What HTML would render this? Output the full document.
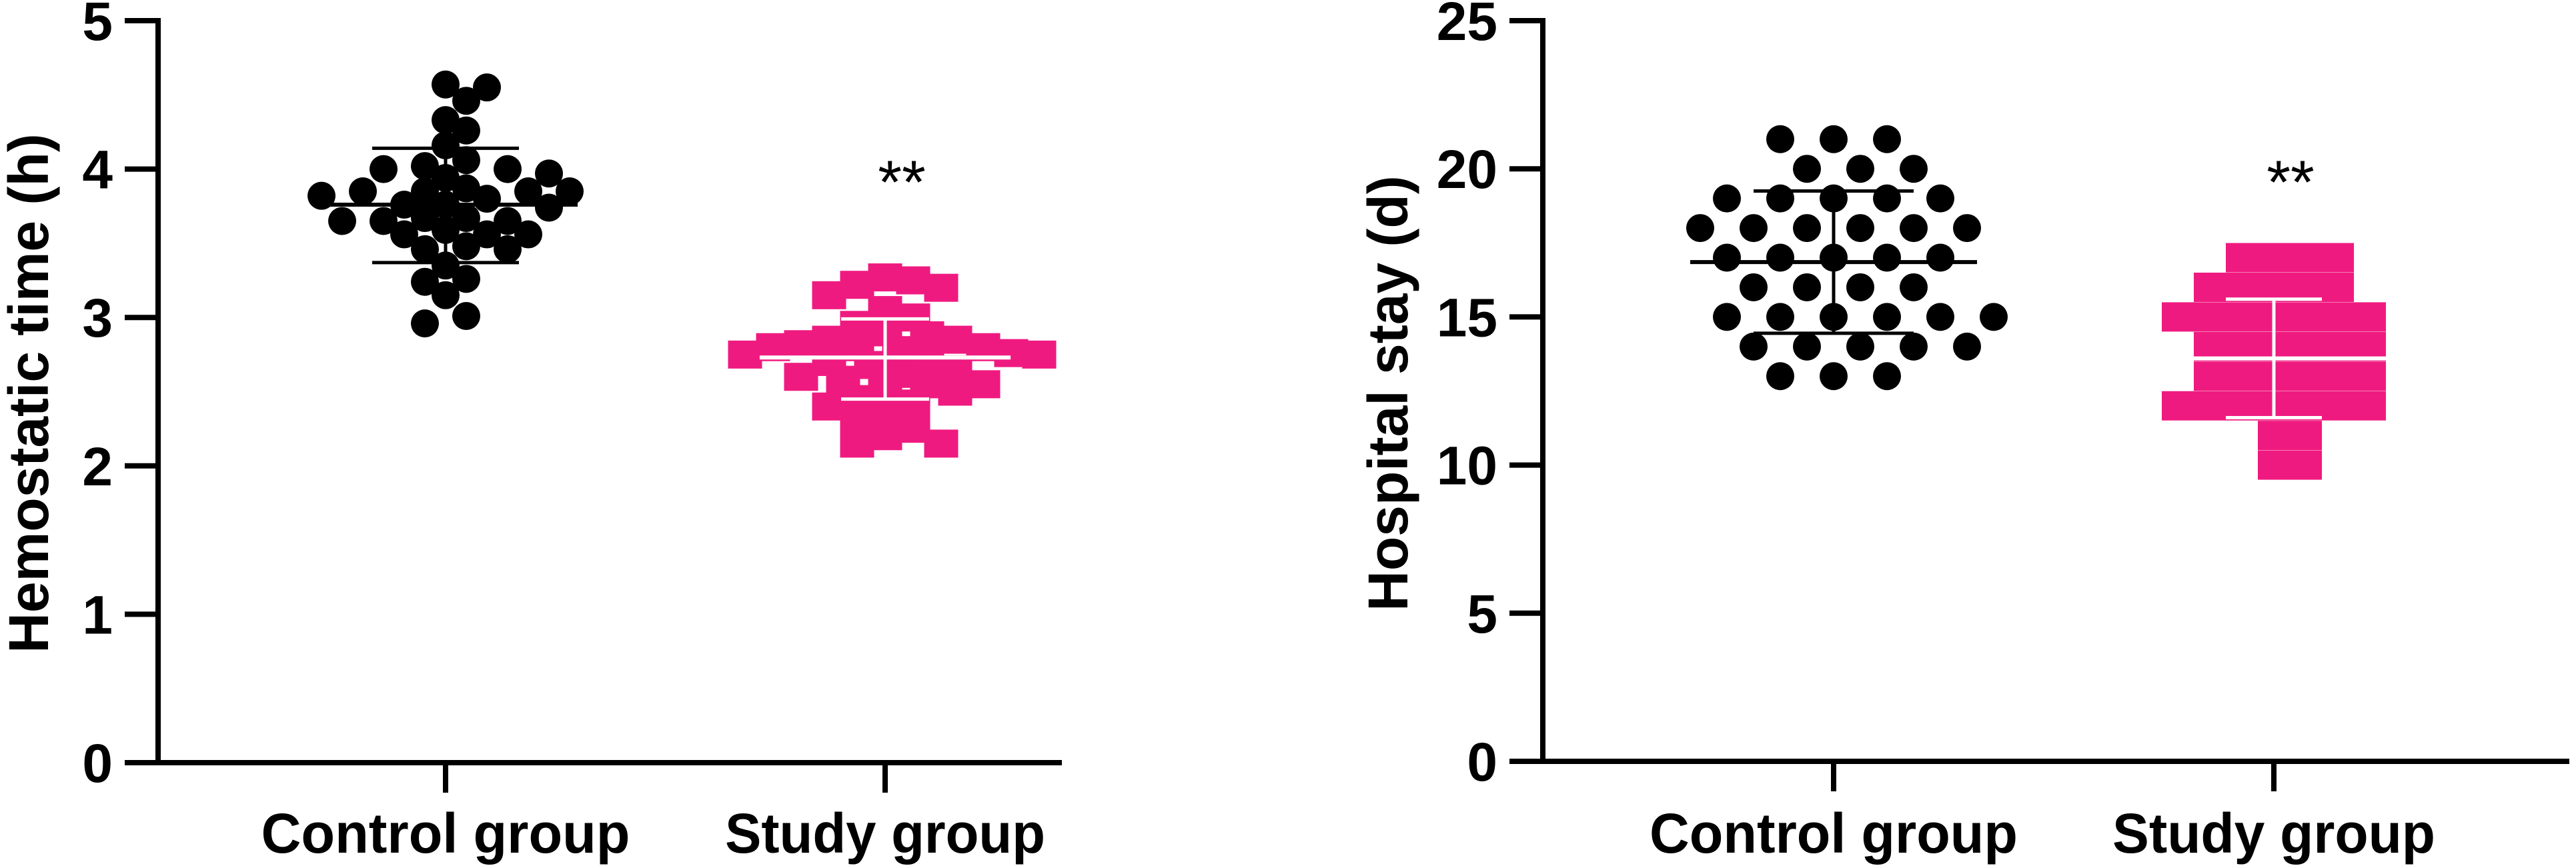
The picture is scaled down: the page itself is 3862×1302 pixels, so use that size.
<!DOCTYPE html>
<html><head><meta charset="utf-8"><style>body{margin:0;background:#fff}svg{display:block}</style></head>
<body>
<svg id="fig" xmlns="http://www.w3.org/2000/svg" width="3862" height="1302" viewBox="0 0 3862 1302" font-family="Liberation Sans, Arial, sans-serif" font-weight="bold"></svg>
<script>
const categories = ["Control group", "Study group"];
const hemoControl = [4.57,4.55,4.46,4.33,4.26,4.16,4.02,4.0,4.06,4.0,3.94,3.97,3.82,3.76,3.87,3.85,3.85,3.85,3.85,3.80,3.74,3.76,3.65,3.67,3.67,3.65,3.65,3.56,3.56,3.59,3.56,3.46,3.48,3.46,3.35,3.24,3.26,3.15,2.96,3.01];
const hemoStudy = [3.27,3.25,3.22,3.2,3.15,3.05,3.0,2.95,2.9,2.88,2.85,2.85,2.82,2.8,2.8,2.78,2.76,2.75,2.75,2.72,2.7,2.68,2.65,2.62,2.6,2.58,2.55,2.55,2.5,2.5,2.45,2.42,2.4,2.35,2.3,2.25,2.2,2.15,2.15,2.8];
const stayControl = [21,21,21,20,20,20,19,19,19,19,19,18,18,18,18,18,18,17,17,17,17,17,16,16,16,16,15,15,15,15,15,15,14,14,14,14,14,13,13,13];
const stayStudy = [17,17,17,17,16,16,16,16,16,15,15,15,15,15,15,15,14,14,14,14,14,14,13,13,13,13,13,13,12,12,12,12,12,12,12,11,11,10,10];
const hemoTicks = [0,1,2,3,4,5];
const stayTicks = [0,5,10,15,20,25];
const hemoSummary = {cMean:3.76,cUp:4.14,cLo:3.37,sMean:2.73,sUp:2.99,sLo:2.45};
const staySummary = {cMean:16.85,cUp:19.25,cLo:14.45,sMean:13.6,sUp:15.6,sLo:11.6};

const NS = "http://www.w3.org/2000/svg";
const svg = document.getElementById('fig');
function mk(tag, attrs, parent){const e=document.createElementNS(NS,tag);for(const k in attrs)e.setAttribute(k,attrs[k]);(parent||svg).appendChild(e);return e;}

function swarm(vals, y, step, minDx, minDy, circle){
  const idx = vals.map((v,i)=>i).sort((a,b)=>vals[b]-vals[a]);
  const placed=[]; const off=new Array(vals.length).fill(0);
  for(const i of idx){
    const py=y(vals[i]);
    for(let k=0;k<80;k++){
      const o = (k===0)?0:(k%2? 1:-1)*Math.ceil(k/2)*step;
      const clash = placed.some(p=> circle ? Math.hypot(p.x-o,p.y-py)<minDx : (Math.abs(p.x-o)<minDx && Math.abs(p.y-py)<minDy));
      if(!clash){off[i]=o;placed.push({x:o,y:py});break;}
    }
  }
  return off;
}

function chart(o){
  const g = mk('g',{});
  
  
  const y = v => o.y0 + (o.y1-o.y0)*(v-o.ticks[0])/(o.ticks[o.ticks.length-1]-o.ticks[0]);
  const ya = mk('line',{x1:o.ax,y1:y(o.ticks[o.ticks.length-1])-4,x2:o.ax,y2:o.y0+4,stroke:'#000','stroke-width':8},g);
  
  
  const xa = mk('line',{x1:o.ax-4,y1:o.y0,x2:o.axEnd,y2:o.y0,stroke:'#000','stroke-width':8},g);
  
  
  o.ticks.forEach(t=>{
    mk('line',{x1:o.ax-50,y1:y(t),x2:o.ax,y2:y(t),stroke:'#000','stroke-width':8},g);
    const tl = mk('text',{x:o.ax-68,y:y(t)+29,'text-anchor':'end','font-size':82},g);
    tl.textContent=t;
    
    
  });
  const yt = mk('text',{transform:`translate(${o.titleX},590) rotate(-90)`,'text-anchor':'middle','font-size':84},g);
  yt.textContent=o.title;
  
  
  categories.forEach((c,i)=>{
    const cx=o.cx[i];
    mk('line',{x1:cx,y1:o.y0,x2:cx,y2:o.y0+45,stroke:'#000','stroke-width':8},g);
    const xl = mk('text',{x:cx,y:1279,'text-anchor':'middle','font-size':84,textLength:o.lblW[i],lengthAdjust:'spacingAndGlyphs'},g);
    xl.textContent=c;
    
    
  });
  const r=21;
  const offC = swarm(o.control,y,o.cStep,o.cMin,0,true);
  o.control.forEach((v,i)=>{
    const c = mk('circle',{cx:o.cx[0]+offC[i],cy:y(v),r:r,fill:'#000'},g);
    
    
  });
  const s=o.sq, sh=o.sqh;
  const offS = swarm(o.study,y,o.sStep,o.sMinX,o.sMinY,o.sEuclid);
  o.study.forEach((v,i)=>{
    const q = mk('rect',{x:o.cx[1]+offS[i]-s/2,y:y(v)-sh/2,width:s,height:sh,fill:'#EF1A80'},g);
    
    
  });
  const S=o.sum;
  function lines(cx,m,u,l,mw,sw,col){
    mk('line',{x1:cx,y1:y(u),x2:cx,y2:y(l),stroke:col,'stroke-width':5},g);
    mk('line',{x1:cx-mw,y1:y(m),x2:cx+mw,y2:y(m),stroke:col,'stroke-width':6},g);
    mk('line',{x1:cx-sw,y1:y(u),x2:cx+sw,y2:y(u),stroke:col,'stroke-width':5},g);
    mk('line',{x1:cx-sw,y1:y(l),x2:cx+sw,y2:y(l),stroke:col,'stroke-width':5},g);
  }
  lines(o.cx[0],S.cMean,S.cUp,S.cLo,o.mw,o.sw,'#000');
  lines(o.cx[1],S.sMean,S.sUp,S.sLo,o.mw*0.95,o.sw*0.6,'#fff');
  const st = mk('text',{x:o.cx[1]+25,y:305,'text-anchor':'middle','font-size':92,'font-weight':'normal'},g);
  st.textContent='**';
  
  
}

chart({name:'hemostatic-time-chart',ax:237,axEnd:1592,y0:1144,y1:31,ticks:hemoTicks,titleX:72,title:'Hemostatic time (h)',
  cx:[668,1327],lblW:[553,480],control:hemoControl,study:hemoStudy,sq:51,sqh:42,sum:hemoSummary,mw:198,sw:110,
  cStep:31,cMin:34,sStep:21,sMinX:32,sMinY:0,sEuclid:true});
chart({name:'hospital-stay-chart',ax:2313,axEnd:3852,y0:1142,y1:31,ticks:stayTicks,titleX:2110,title:'Hospital stay (d)',
  cx:[2749,3409],lblW:[552,484],control:stayControl,study:stayStudy,sq:48,sqh:44,sum:staySummary,mw:215,sw:120,
  cStep:40,cMin:50,sStep:48,sMinX:46,sMinY:40,sEuclid:false});
</script>
</body></html>
